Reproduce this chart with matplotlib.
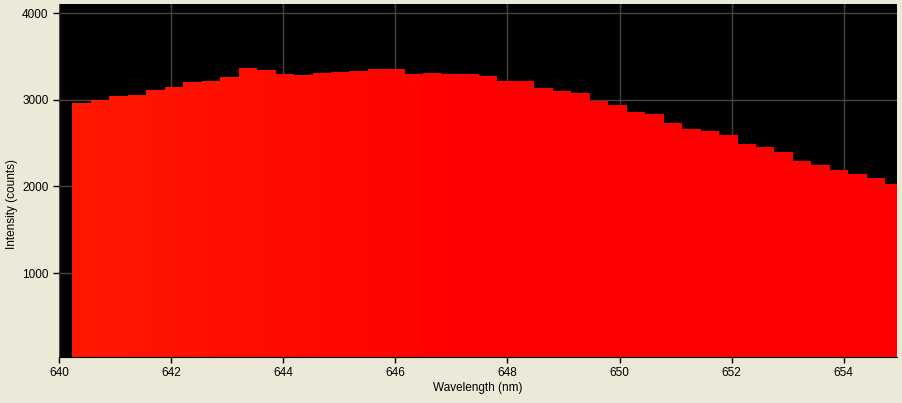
import numpy as np
import matplotlib
matplotlib.use('Agg')
import matplotlib.pyplot as plt
from matplotlib import rcParams
from matplotlib.colors import to_rgb

rcParams['font.family'] = ['Liberation Sans', 'DejaVu Sans']
rcParams['font.size'] = 8.5

# spectrum bins: left edge (nm), bin width (nm), counts
bin_start = 640.24
bin_width = 0.3295
counts = [2965, 2992, 3046, 3058, 3115, 3150, 3208, 3219, 3265, 3369,
          3346, 3300, 3288, 3311, 3323, 3334, 3357, 3357, 3300, 3311,
          3300, 3300, 3277, 3219, 3219, 3138, 3104, 3081, 2988, 2942,
          2862, 2838, 2735, 2665, 2642, 2596, 2492, 2457, 2400, 2296,
          2250, 2192, 2146, 2100, 2030]

xticks = [640, 642, 644, 646, 648, 650, 652, 654]
yticks = [1000, 2000, 3000, 4000]

bg = '#ECE9D8'
fig = plt.figure(figsize=(9.02, 4.03), dpi=100, facecolor=bg)
ax = fig.add_axes([59 / 902, 46 / 403, 838 / 902, 353 / 403])
ax.set_facecolor('black')

edges = bin_start + bin_width * np.arange(len(counts))

# slight orange tint on the left fading to pure red
c0 = np.array(to_rgb('#FF1800'))
c1 = np.array(to_rgb('#FF0000'))
t = np.clip((edges - 640) / 7.0, 0, 1)
colors = [tuple(c0 * (1 - f) + c1 * f) for f in t]

ax.bar(edges, counts, width=bin_width * 1.01, align='edge', color=colors,
       linewidth=0, zorder=2)

ax.set_xlim(640, 654.95)
ax.set_ylim(31, 4104)
ax.set_xticks(xticks)
ax.set_yticks(yticks)
ax.grid(True, color='#444444', linewidth=1, zorder=1)
ax.set_axisbelow(True)
ax.tick_params(direction='out', length=4, width=1, colors='black', labelsize=8.5)

for s in ['top', 'right', 'left']:
    ax.spines[s].set_visible(False)
ax.spines['bottom'].set_color('black')

ax.set_xlabel('Wavelength (nm)', fontsize=8.5)
ax.set_ylabel('Intensity (counts)', fontsize=8.5)
ax.xaxis.set_label_coords(0.5, -0.072)
ax.yaxis.set_label_coords(-0.049, 0.433)

fig.savefig('out.png', dpi=100, facecolor=bg)
